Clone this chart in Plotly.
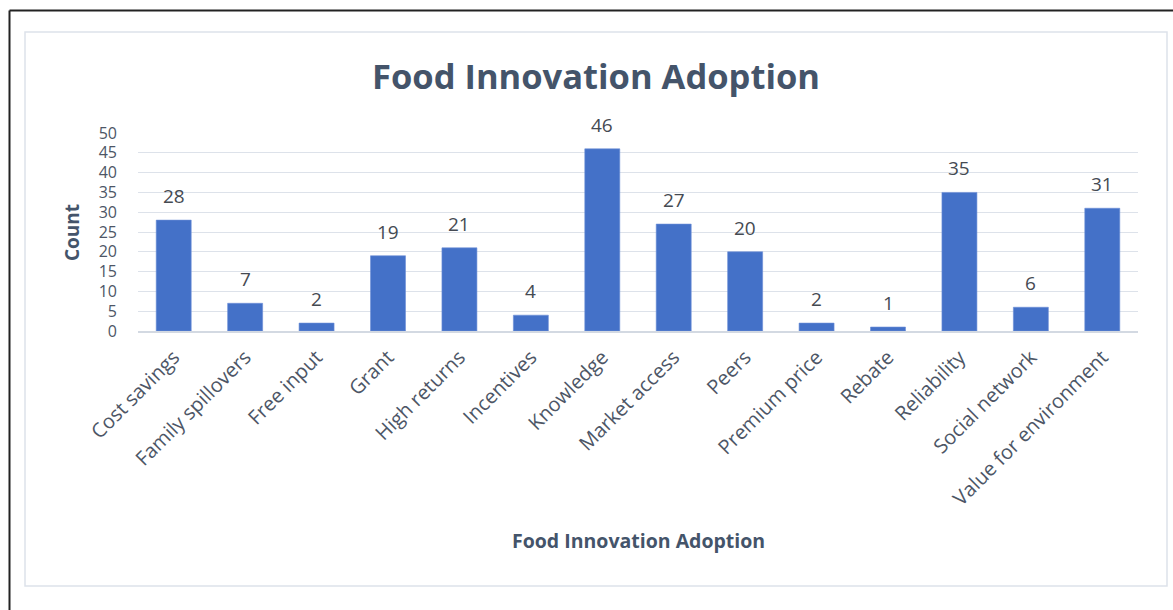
import plotly.graph_objects as go

# Reasons given for adopting a food innovation, with response counts
categories = [
    "Cost savings", "Family spillovers", "Free input", "Grant", "High returns",
    "Incentives", "Knowledge", "Market access", "Peers", "Premium price",
    "Rebate", "Reliability", "Social network", "Value for environment",
]
counts = [28, 7, 2, 19, 21, 4, 46, 27, 20, 2, 1, 35, 6, 31]
y_ticks = [0, 5, 10, 15, 20, 25, 30, 35, 40, 45, 50]

FONT = "Open Sans"
TEXT = "#4d5666"
TITLE = "#44546A"
GRID = "#dde2ea"

W, H = 1173, 610
L, R, T, B = 138, 35, 133, 279
pw, ph = W - L - R, H - T - B


def px_x(px):
    return (px - L) / pw


def px_y(py):
    return (H - B - py) / ph


fig = go.Figure(
    go.Bar(
        x=categories,
        y=counts,
        marker=dict(color="#4471c8", line=dict(color="#6d8fd6", width=0.6)),
        width=0.49,
        hoverinfo="x+y",
    )
)

# value labels above each bar
for c, v in zip(categories, counts):
    fig.add_annotation(
        x=c, y=v, text=str(v), showarrow=False, yanchor="middle", yshift=24,
        font=dict(family=FONT, size=19, color="#454a52"),
    )

# axis titles
fig.add_annotation(
    xref="paper", yref="paper", x=px_x(638), y=px_y(540),
    xanchor="center", yanchor="middle",
    text="<b>Food Innovation Adoption</b>", showarrow=False,
    font=dict(family=FONT, size=19.5, color=TITLE),
)
fig.add_annotation(
    xref="paper", yref="paper", x=px_x(72), y=px_y(233),
    xanchor="center", yanchor="middle",
    text="<b>Count</b>", showarrow=False, textangle=-90,
    font=dict(family=FONT, size=19, color=TITLE),
)

# chart frame and outer border
fig.add_shape(
    type="rect", xref="paper", yref="paper",
    x0=px_x(25), x1=px_x(1167), y0=px_y(586), y1=px_y(32),
    line=dict(color="#dde2ea", width=1.5), layer="below",
)
fig.add_shape(
    type="line", xref="paper", yref="paper",
    x0=px_x(9.5), x1=px_x(1180), y0=px_y(10.5), y1=px_y(10.5),
    line=dict(color="#222222", width=2),
)
fig.add_shape(
    type="line", xref="paper", yref="paper",
    x0=px_x(9.5), x1=px_x(9.5), y0=px_y(10.5), y1=px_y(615),
    line=dict(color="#222222", width=2),
)

fig.update_layout(
    width=W, height=H,
    margin=dict(l=L, r=R, t=T, b=B),
    paper_bgcolor="white", plot_bgcolor="white",
    showlegend=False,
    title=dict(
        text="<b>Food Innovation Adoption</b>",
        xref="paper", x=px_x(596), xanchor="center",
        yref="container", y=1 - 77 / H, yanchor="middle",
        font=dict(family=FONT, size=34.5, color=TITLE),
    ),
    xaxis=dict(
        tickangle=-45, tickfont=dict(family=FONT, size=20, color=TEXT),
        showgrid=False, showline=True, linecolor="#d3d9e2", linewidth=1.5,
        ticks="", ticklabelstandoff=5, automargin=False,
    ),
    yaxis=dict(
        range=[0, 50], tickvals=y_ticks,
        tickfont=dict(family=FONT, size=16, color=TEXT),
        showgrid=True, gridcolor=GRID, gridwidth=1, zeroline=False,
        ticks="", ticklabelstandoff=20, automargin=False,
    ),
)

fig.write_html("out.html")
